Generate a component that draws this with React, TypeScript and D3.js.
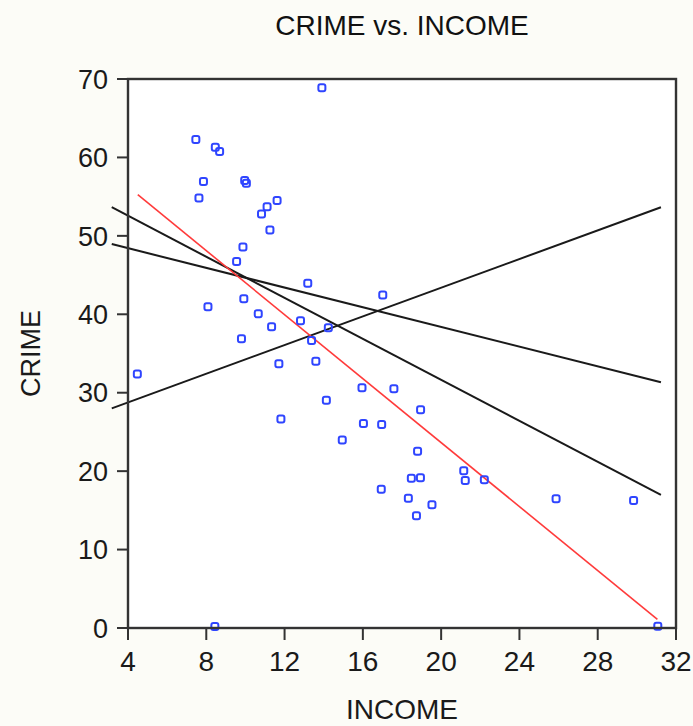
import React, { useMemo } from 'react';
import { scaleLinear, line } from 'd3';

// Columbus neighbourhoods: income vs crime
const INCOME = [
	19.531, 21.232, 15.956, 4.477, 11.252, 16.029, 8.438, 11.337, 17.586, 13.598,
	7.467, 10.048, 9.549, 9.963, 9.873, 7.625, 9.798, 13.185, 11.618, 31.07,
	10.655, 11.709, 21.155, 14.236, 8.461, 8.085, 10.822, 7.856, 8.681, 13.906,
	16.94, 18.942, 9.918, 14.948, 12.814, 18.739, 17.017, 11.107, 18.477, 29.833,
	22.207, 25.873, 13.38, 16.961, 14.135, 18.324, 18.95, 11.813, 18.796,
];
const CRIME = [
	15.726, 18.802, 30.627, 32.388, 50.732, 26.067, 0.178, 38.426, 30.516, 34.001,
	62.275, 56.706, 46.717, 57.066, 48.585, 54.839, 36.869, 43.962, 54.52, 0.224,
	40.074, 33.705, 20.048, 38.298, 61.299, 40.97, 52.794, 56.92, 60.75, 68.892,
	17.677, 19.146, 41.968, 23.974, 39.176, 14.306, 42.445, 53.71, 19.101, 16.241,
	18.905, 16.491, 36.664, 25.962, 29.028, 16.531, 27.823, 26.645, 22.541,
];

// red fit line
const FIT_X = [4.5, 31.05];
const FIT_Y = [55.25, 1.1];

// three black lines: [x0, y0, x1, y1]
const BLACK_LINES = [
	[3.17, 53.65, 31.23, 16.96],
	[3.17, 48.95, 31.23, 31.33],
	[3.17, 28.01, 31.23, 53.65],
];

const X_TICKS = [4, 8, 12, 16, 20, 24, 28, 32];
const Y_TICKS = [0, 10, 20, 30, 40, 50, 60, 70];

const W = 693;
const H = 726;
const M = { left: 128, right: 676, top: 79, bottom: 628 };
const FONT = '"Liberation Sans", Arial, sans-serif';
const AXIS = '#333';

export default function App() {
	const x = useMemo(() => scaleLinear().domain([4, 32]).range([M.left, M.right]), []);
	const y = useMemo(() => scaleLinear().domain([0, 70]).range([M.bottom, M.top]), []);

	const fitPath = line<number>()
		.x((d) => x(d))
		.y((_, i) => y(FIT_Y[i]))(FIT_X);

	return (
		<div>
			<style>{'body{margin:0;background:#fcfcf7}'}</style>
			<svg width={W} height={H} style={{ display: 'block', background: '#fcfcf7' }}>
				<rect x={M.left} y={M.top} width={M.right - M.left} height={M.bottom - M.top} fill="#ffffff" />

				<text x={(M.left + M.right) / 2} y={35} textAnchor="middle" fontFamily={FONT} fontSize={28} fill="#111">
					CRIME vs. INCOME
				</text>

				{/* y ticks */}
				{Y_TICKS.map((t) => (
					<g key={t}>
						<line x1={M.left - 11} x2={M.left} y1={y(t)} y2={y(t)} stroke={AXIS} strokeWidth={2} />
						<text x={M.left - 20} y={y(t)} dy="0.36em" textAnchor="end" fontFamily={FONT} fontSize={27} fill="#1a1a1a">
							{t}
						</text>
					</g>
				))}
				{/* x ticks */}
				{X_TICKS.map((t) => (
					<g key={t}>
						<line x1={x(t)} x2={x(t)} y1={M.bottom} y2={M.bottom + 12} stroke={AXIS} strokeWidth={2} />
						<text x={x(t)} y={671} textAnchor="middle" fontFamily={FONT} fontSize={28} fill="#1a1a1a">
							{t}
						</text>
					</g>
				))}

				<text
					transform={`translate(40,${(M.top + M.bottom) / 2}) rotate(-90)`}
					textAnchor="middle"
					fontFamily={FONT}
					fontSize={27}
					fill="#1a1a1a"
				>
					CRIME
				</text>
				<text x={(M.left + M.right) / 2} y={719} textAnchor="middle" fontFamily={FONT} fontSize={28} fill="#1a1a1a">
					INCOME
				</text>

				{/* fitted lines */}
				{BLACK_LINES.map((l, i) => (
					<line key={i} x1={x(l[0])} y1={y(l[1])} x2={x(l[2])} y2={y(l[3])} stroke="#1a1a1a" strokeWidth={2} />
				))}
				<path d={fitPath ?? ''} fill="none" stroke="#ff3b3b" strokeWidth={1.6} />

				{/* points */}
				{INCOME.map((inc, i) => (
					<rect
						key={i}
						x={x(inc) - 3.5}
						y={y(CRIME[i]) - 3.5}
						width={7}
						height={7}
						rx={2}
						fill="none"
						stroke="#2f45ff"
						strokeWidth={2}
					/>
				))}

				{/* frame */}
				<rect
					x={M.left}
					y={M.top}
					width={M.right - M.left}
					height={M.bottom - M.top}
					fill="none"
					stroke={AXIS}
					strokeWidth={2.4}
				/>
			</svg>
		</div>
	);
}
